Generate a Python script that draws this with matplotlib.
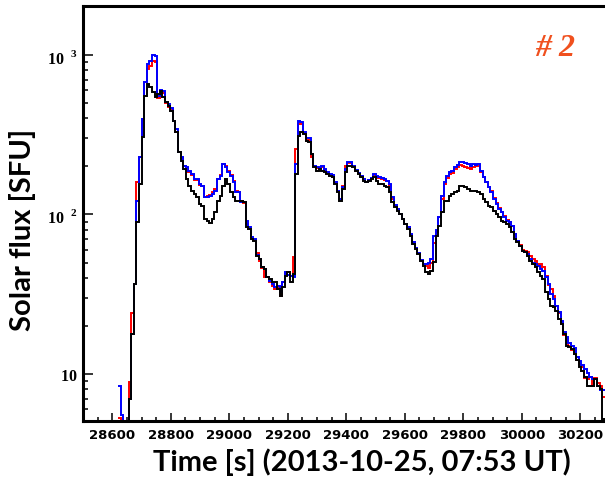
import numpy as np
import matplotlib
matplotlib.use("Agg")
import matplotlib.pyplot as plt
from matplotlib.ticker import FixedLocator, FuncFormatter, MultipleLocator, LogLocator, NullFormatter

plt.rcParams["mathtext.fontset"] = "custom"
plt.rcParams["mathtext.rm"] = "Liberation Serif:bold"
plt.rcParams["mathtext.bf"] = "Liberation Serif:bold"

# time binning of the light curves (s)
t_start = 28620
bin_width = 8.9

# solar flux per bin [SFU]; 1 = below the plotted range
black = [1, 1, 1, 1, 7.0, 17.8, 36.6, 90, 155, 306, 553, 658, 630, 586, 545, 570, 595, 545, 507, 479, 446,
         386, 329, 247, 217, 193, 167, 151, 140, 134, 128, 116,
         113, 94, 91, 88, 94, 104, 122, 131, 151, 167, 155, 138, 128, 122, 122, 122, 120, 83, 81, 70,
         68.5, 55, 52.6, 47, 45.4, 40.5, 39.5, 37.6, 37.6, 34.2, 31, 35.3, 41.3, 43.6, 37.6, 42.3,
         179, 311, 329, 320, 289, 284, 240, 198, 188, 193, 188, 185, 179, 174, 172, 155, 138, 122, 144,
         185, 202, 202, 198, 188, 179, 172, 162, 160, 162, 167, 172, 162, 155, 155, 151, 149, 138,
         120, 111, 105, 101, 94, 87, 81, 73, 65, 61, 56.7, 51, 47.5, 43.6, 42.3, 44.3, 50.2, 73, 85,
         103.6, 122, 122, 130, 134, 138, 140, 151, 151, 149, 144, 140,
         140, 140, 138, 134, 125, 120, 113, 111, 105, 101, 96.6, 91, 90, 87, 83, 78, 70, 67, 63, 59,
         58, 55, 51, 49, 47, 43.6,
         41.3, 39.5, 32.6, 29.5, 26.8, 26.3, 24.9, 22.2, 20.5, 17.8, 15, 14.8, 14.4, 13.3, 12.3, 11.0,
         10.4, 9.6, 8.4, 8.4, 8.4, 9.3, 8.4, 8.1, 5.2]
blue = [8.4, 5.5, 1, 1, 7.0, 17.8, 36.6, 122, 229, 397, 677, 879, 917, 1000, 986, 553, 604, 595, 507, 490, 465,
        386, 344, 247, 229, 202, 198, 188, 180, 167, 167, 155,
        151, 128, 128, 131, 134, 140, 167, 174, 207, 198, 185, 174, 160, 138, 138, 120, 120, 91, 83, 72,
        70, 56, 52.6, 47, 45.4, 40.5, 38.5, 36.7, 35.3, 35.8, 32.6, 37.5, 43.6, 42, 41.3, 40.5,
        207, 386, 380, 330, 300, 300, 240, 202, 198, 193, 202, 193, 185, 179, 177, 160, 140, 125, 148,
        193, 213, 213, 200, 190, 182, 175, 167, 160, 164, 170, 179, 174, 172, 170, 167, 163, 155,
        128, 115, 108, 101, 94, 87, 83, 75, 67, 62, 57, 52, 49, 49, 50, 52.6, 73, 80, 96.6,
        130, 160, 174, 185, 188, 198, 205, 213, 213, 210, 207, 202,
        207, 205, 207, 188, 172, 160, 149, 138, 125, 116, 108, 104, 96.6, 91, 90, 85, 75, 68, 63, 59,
        58, 56.7, 52.6, 50, 49, 47.5,
        45.4, 44, 40.5, 36.7, 31.6, 29.5, 26.8, 24.5, 21.5, 18.3, 17, 15.6, 15, 14.6, 12.8, 12.0,
        11.3, 10.7, 10.2, 9.6, 9.3, 9.3, 8.4, 7.9, 7.9]
red = [5.3, 1, 1, 1, 8.9, 24, 36.6, 160, 229, 397, 677, 817, 850, 917, 900, 540, 595, 580, 500, 470, 450,
       386, 330, 247, 225, 200, 195, 185, 178, 165, 165, 152,
       151, 128, 130, 133, 138, 145, 167, 178, 207, 200, 188, 176, 162, 140, 138, 122, 118, 87, 81, 71,
       69, 57, 51, 46, 40.5, 40.5, 38, 35.5, 34, 35, 31, 38, 43, 43.6, 41.3, 54,
       258, 370, 370, 325, 289, 295, 230, 200, 195, 193, 198, 190, 183, 177, 172, 158, 140, 125, 150,
       200, 210, 210, 200, 188, 182, 175, 167, 160, 164, 170, 176, 172, 170, 168, 165, 162, 153,
       125, 113, 108, 101, 94, 87, 83, 74, 67, 62, 57, 52, 48.5, 47.5, 46, 50, 66, 78, 96.6,
       125, 155, 170, 180, 183, 193, 198, 203, 200, 198, 196, 193,
       198, 200, 200, 185, 172, 160, 149, 140, 127, 118, 110, 104, 98, 93, 90, 85, 76, 68, 64, 60,
       59, 58, 55, 52.6, 51, 49,
       49, 47, 41, 36, 34, 31, 26.8, 24, 20.5, 17.5, 16.5, 15, 14.2, 13.3, 12.3, 11.5,
       11.1, 9.5, 9.3, 9.6, 8.4, 9.4, 8.8, 8.4, 7.2]

x_min, x_max = 28500, 30300
y_min, y_max = 5.07, 2030
y_major = [10, 100, 1000]
y_labels = {10: r"$\mathbf{10}^{\ \ \ \ }$", 100: r"$\mathbf{10}^{\ \ \mathbf{2}}$",
            1000: r"$\mathbf{10}^{\ \ \mathbf{3}}$"}

edges = t_start + bin_width * np.arange(len(black) + 1)

fig = plt.figure(figsize=(6.05, 4.85), dpi=100)
ax = fig.add_axes([83 / 605, 63 / 485, 526.5 / 605, 415 / 485])

ax.stairs(red, edges, color="#ff0000", lw=1.4, baseline=None)
ax.stairs(blue, edges, color="#0000ff", lw=1.4, baseline=None)
ax.stairs(black, edges, color="black", lw=1.4, baseline=None)

ax.set_yscale("log")
ax.set_xlim(x_min, x_max)
ax.set_ylim(y_min, y_max)

ax.xaxis.set_major_locator(MultipleLocator(200))
ax.xaxis.set_minor_locator(MultipleLocator(50))
ax.yaxis.set_major_locator(FixedLocator(y_major))
ax.yaxis.set_major_formatter(FuncFormatter(lambda v, pos: y_labels.get(int(round(v)), "")))
ax.yaxis.set_minor_locator(LogLocator(base=10, subs=np.arange(2, 10)))
ax.yaxis.set_minor_formatter(NullFormatter())

ax.tick_params(axis="x", which="major", direction="in", length=5.8, width=1.1, pad=5)
ax.tick_params(axis="x", which="minor", direction="in", length=2.9, width=1.1)
ax.tick_params(axis="y", which="major", direction="in", length=7.2, width=1.1, pad=4)
ax.tick_params(axis="y", which="minor", direction="in", length=3.6, width=1.1)
ax.tick_params(top=False, right=False, which="both")

for lab in ax.get_xticklabels():
    lab.set_fontfamily("DejaVu Sans")
    lab.set_fontweight("bold")
    lab.set_fontsize(9.5)
for lab in ax.get_yticklabels():
    lab.set_fontsize(11.5)

for sp in ax.spines.values():
    sp.set_linewidth(2.2)

fig.text(362 / 605, 1 - 462 / 485, "Time [s] (2013-10-25, 07:53 UT)", ha="center", va="center",
         fontsize=21, fontweight="bold", family="Lato")
fig.text(23 / 605, 1 - 230 / 485, "Solar flux [SFU]", ha="center", va="center", rotation=90,
         fontsize=21, fontweight="bold", family="Lato")
fig.text(555 / 605, 1 - 48 / 485, "# 2", ha="center", va="center", fontsize=23,
         fontweight="bold", fontstyle="italic", family="Liberation Serif", color="#f0501e")

fig.savefig("out.png", dpi=100)
